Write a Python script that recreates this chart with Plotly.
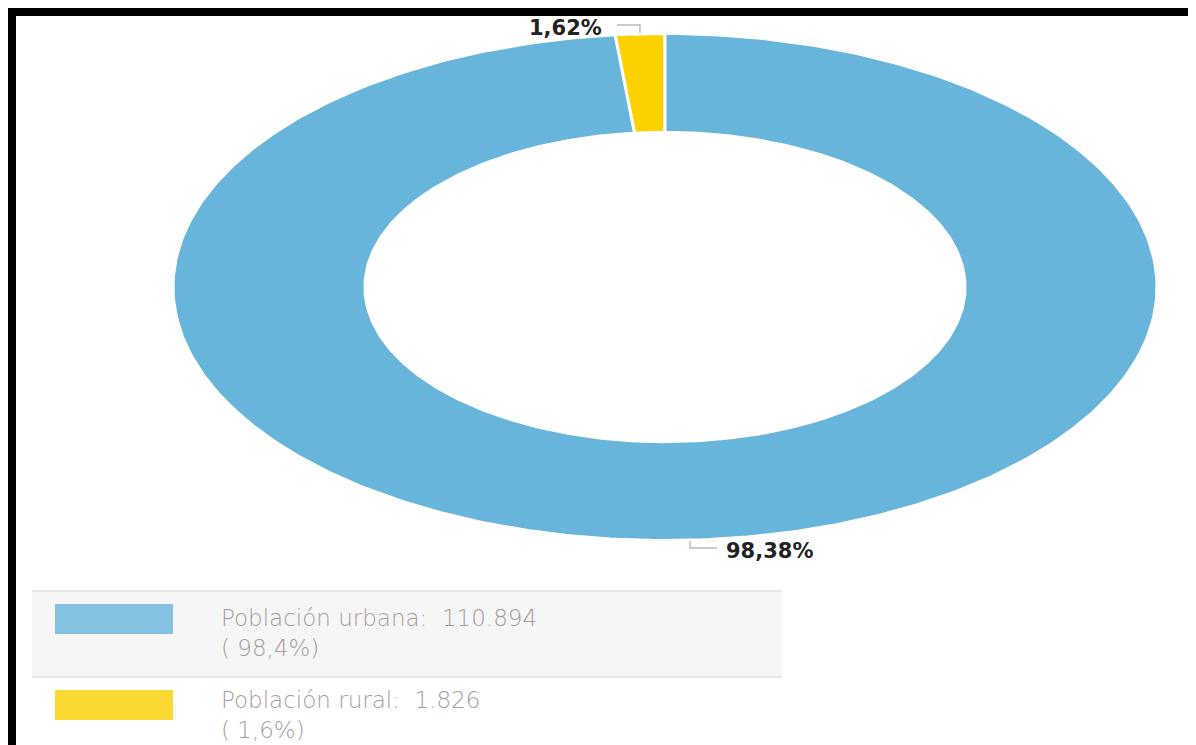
import numpy as np
import plotly.graph_objects as go

# ---- data ----
categories = ["Población urbana", "Población rural"]
values = [110894, 1826]
slice_colors = ["#67B5DA", "#FDD000"]
swatch_colors = ["#85C1E0", "#FAD932"]

# page is offset by the browser's 8px body margin
OFF = 8
W, H = 1196 - OFF, 745 - OFF
total = sum(values)
pcts = [v / total * 100 for v in values]

def fmt_pct(p, d):
    return f"{p:.{d}f}".replace(".", ",")

def fmt_int(v):
    return f"{v:,}".replace(",", ".")

fig = go.Figure()

hole = 0.61
order = [1, 0]
start = 90.0
for i in order:
    span = values[i] / total * 360.0
    a0, a1 = start, start + span
    t = np.radians(np.linspace(a0, a1, 400))
    xo, yo = np.cos(t), np.sin(t)
    xi, yi = hole * np.cos(t[::-1]), hole * np.sin(t[::-1])
    xs = np.concatenate([xo, xi, xo[:1]])
    ys = np.concatenate([yo, yi, yo[:1]])
    fig.add_trace(go.Scatter(x=xs, y=ys, mode="lines", fill="toself",
                             fillcolor=slice_colors[i],
                             line=dict(color="white", width=3),
                             hoverinfo="skip", showlegend=False))
    start = a1

def px(x):
    return (x - OFF) / W

def py(y):
    return 1 - (y - OFF) / H

cx_px, cy_px, rx_px, ry_px = 665, 287, 492, 253.5
fig.update_xaxes(range=[-1, 1], domain=[px(cx_px - rx_px), px(cx_px + rx_px)],
                 visible=False, fixedrange=True)
fig.update_yaxes(range=[-1, 1], domain=[py(cy_px + ry_px), py(cy_px - ry_px)],
                 visible=False, fixedrange=True)

shapes = []
annotations = []

lab_font = dict(family="DejaVu Sans", size=21, color="#222222", weight="bold")
annotations.append(dict(x=px(604), y=py(28), xref="paper", yref="paper",
                        text=fmt_pct(pcts[1], 2) + "%", showarrow=False,
                        xanchor="right", yanchor="middle", font=lab_font))
shapes.append(dict(type="path", xref="paper", yref="paper",
                   path=f"M {px(617)} {py(25)} L {px(640)} {py(25)} L {px(640)} {py(33)}",
                   line=dict(color="#BBBBBB", width=1.5)))
annotations.append(dict(x=px(724), y=py(551), xref="paper", yref="paper",
                        text=fmt_pct(pcts[0], 2) + "%", showarrow=False,
                        xanchor="left", yanchor="middle", font=lab_font))
shapes.append(dict(type="path", xref="paper", yref="paper",
                   path=f"M {px(690)} {py(541)} L {px(690)} {py(548)} L {px(717)} {py(548)}",
                   line=dict(color="#BBBBBB", width=1.5)))

# custom legend
shapes.append(dict(type="rect", xref="paper", yref="paper",
                   x0=px(32), x1=px(782), y0=py(677), y1=py(591),
                   fillcolor="#F6F6F6", line=dict(width=0), layer="below"))
for yline in (591, 677):
    shapes.append(dict(type="line", xref="paper", yref="paper",
                       x0=px(32), x1=px(782), y0=py(yline), y1=py(yline),
                       line=dict(color="#E0E0E0", width=1.5)))
row_tops = [604, 690]
leg_font = dict(family="DejaVu Sans", size=23, color="#A89C9C", weight=300)
for k, i in enumerate([0, 1]):
    t0 = row_tops[k]
    shapes.append(dict(type="rect", xref="paper", yref="paper",
                       x0=px(55), x1=px(173), y0=py(t0 + 30), y1=py(t0),
                       fillcolor=swatch_colors[i], line=dict(width=0)))
    txt = f"{categories[i]}:  {fmt_int(values[i])}<br>( {fmt_pct(pcts[i], 1)}%)"
    if k == 0:
        pos = dict(y=py(t0 - 1), yanchor="top")
    else:
        pos = dict(y=0.0, yanchor="bottom")
    annotations.append(dict(x=px(219), xref="paper", yref="paper",
                            text=txt, showarrow=False, align="left",
                            xanchor="left", font=leg_font, **pos))

# black frame (top and left)
shapes.append(dict(type="rect", xref="paper", yref="paper",
                   x0=px(8), x1=px(1200), y0=py(16), y1=py(8),
                   fillcolor="black", line=dict(width=0)))
shapes.append(dict(type="rect", xref="paper", yref="paper",
                   x0=px(8), x1=px(16), y0=py(760), y1=py(8),
                   fillcolor="black", line=dict(width=0)))

fig.update_layout(width=W, height=H, margin=dict(l=0, r=0, t=0, b=0),
                  paper_bgcolor="white", plot_bgcolor="white",
                  shapes=shapes, annotations=annotations, showlegend=False)

fig.write_html("out.html", config={"displayModeBar": False})
